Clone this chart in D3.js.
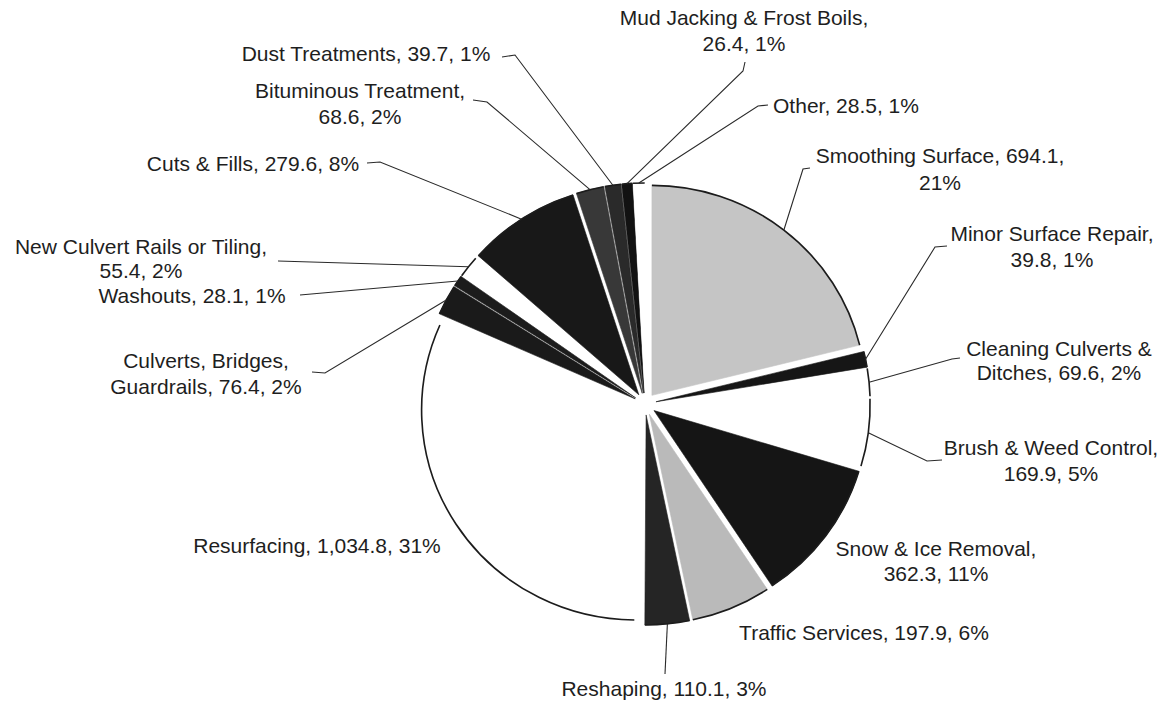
<!DOCTYPE html>
<html>
<head>
<meta charset="utf-8">
<script src="https://cdn.jsdelivr.net/npm/d3@7/dist/d3.min.js"></script>
<style>
  body { margin: 0; background: #ffffff; }
  svg { display: block; }
  text { font-family: "Liberation Sans", Arial, sans-serif; fill: #1e1e1e; }
</style>
</head>
<body>
<svg id="chart" width="1165" height="704"></svg>
<script>
// Road maintenance expenditure by activity (clockwise from 12 o'clock)
const categories = [
  "Smoothing Surface", "Minor Surface Repair", "Cleaning Culverts & Ditches",
  "Brush & Weed Control", "Snow & Ice Removal", "Traffic Services", "Reshaping",
  "Resurfacing", "Culverts, Bridges, Guardrails", "Washouts",
  "New Culvert Rails or Tiling", "Cuts & Fills", "Bituminous Treatment",
  "Dust Treatments", "Mud Jacking & Frost Boils", "Other"
];
const values = [
  694.1, 39.8, 69.6, 169.9, 362.3, 197.9, 110.1, 1034.8,
  76.4, 28.1, 55.4, 279.6, 68.6, 39.7, 26.4, 28.5
];
const percentLabels = [
  "21%", "1%", "2%", "5%", "11%", "6%", "3%", "31%",
  "2%", "1%", "2%", "8%", "2%", "1%", "1%", "1%"
];

// Slice shading
const sliceFills = [
  "#c5c5c5", "#161616", "#ffffff", "#ffffff", "#151515", "#bababa", "#252525", "#ffffff",
  "#1a1a1a", "#1c1c1c", "#ffffff", "#181818", "#383838", "#2a2a2a", "#121212", "#ffffff"
];

// Label placement: text centre, first-line break, line gap and leader start/elbow
const labelLayout = [
  { x: 940,  y: 155, brk: "694.1,", gap: 27, leader: [[810,168],[803,169]] },
  { x: 1052, y: 233, brk: "Repair,", gap: 26, leader: [[947,246],[935,247]] },
  { x: 1059, y: 348, brk: "&", gap: 24, leader: [[960,358],[952,359]] },
  { x: 1051, y: 447, brk: "Control,", gap: 26, leader: [[942,460],[927,461]] },
  { x: 936,  y: 548, brk: "Removal,", gap: 25, leader: null },
  { x: 864,  y: 632, brk: null, leader: null },
  { x: 664,  y: 688, brk: null, leader: [[665,674]] },
  { x: 317,  y: 545, brk: null, leader: null },
  { x: 206,  y: 360, brk: "Bridges,", gap: 26, leader: [[312,372],[325,373]] },
  { x: 192,  y: 295, brk: null, leader: [[300,295]] },
  { x: 141,  y: 246, brk: "Tiling,", gap: 24, leader: [[278,261]] },
  { x: 253,  y: 163, brk: null, leader: [[367,163],[380,162]] },
  { x: 360,  y: 90,  brk: "Treatment,", gap: 26, leader: [[473,100],[487,102]] },
  { x: 366,  y: 53,  brk: null, leader: [[502,57],[515,55]] },
  { x: 744,  y: 17,  brk: "Boils,", gap: 26, leader: [[745,62],[743,71]] },
  { x: 846,  y: 105, brk: null, leader: [[768,105],[758,106]] }
];

const W = 1165, H = 704;
const CX = 645, CY = 404, SX = 1.019;
const R = 210, EXPLODE = 11;
const FONT = 21;

const data = categories.map((c, i) => ({ name: c, value: values[i], pct: percentLabels[i], i }));
const svg = d3.select("#chart");
svg.append("rect").attr("width", W).attr("height", H).attr("fill", "#ffffff");

const pie = d3.pie().sort(null).value(d => d.value).startAngle(0).endAngle(2 * Math.PI);
const arcs = pie(data);
const arcGen = d3.arc().innerRadius(0).outerRadius(R);
const fmt = d3.format(",.1f");

const g = svg.append("g").attr("transform", `translate(${CX},${CY}) scale(${SX},1)`);

function offsetOf(a, dist) {
  const mid = (a.startAngle + a.endAngle) / 2;
  return [dist * Math.sin(mid), -dist * Math.cos(mid)];
}

// Exploded slices
const slices = g.selectAll("g.slice").data(arcs).join("g")
  .attr("class", "slice")
  .attr("transform", a => { const o = offsetOf(a, EXPLODE); return `translate(${o[0]},${o[1]})`; });

slices.append("path")
  .attr("d", arcGen)
  .attr("fill", a => sliceFills[a.data.i])
  .attr("stroke", a => sliceFills[a.data.i] === "#ffffff" ? "none" : sliceFills[a.data.i])
  .attr("stroke-width", 0.6);

// Outer rim of each slice
slices.append("path")
  .attr("d", a => {
    const p = d3.path();
    p.arc(0, 0, R, a.startAngle - Math.PI / 2, a.endAngle - Math.PI / 2);
    return p.toString();
  })
  .attr("fill", "none")
  .attr("stroke", "#1c1c1c")
  .attr("stroke-width", 1.6);

// Leader lines
const leaderG = svg.append("g");
arcs.forEach(a => {
  const lay = labelLayout[a.data.i];
  if (!lay.leader) return;
  const o = offsetOf(a, R + EXPLODE);
  const end = [CX + SX * o[0], CY + o[1]];
  const pts = lay.leader.concat([end]);
  leaderG.append("path")
    .attr("d", d3.line()(pts))
    .attr("fill", "none")
    .attr("stroke", "#2a2a2a")
    .attr("stroke-width", 1.1);
});

// Data labels: "name, value, percent"
const labelG = svg.append("g").attr("font-size", FONT);
arcs.forEach(a => {
  const d = a.data;
  const lay = labelLayout[d.i];
  const full = `${d.name}, ${fmt(d.value)}, ${d.pct}`;
  let lines = [full];
  if (lay.brk) {
    const k = full.indexOf(lay.brk) + lay.brk.length;
    lines = [full.slice(0, k), full.slice(k).trim()];
  }
  const t = labelG.append("text")
    .attr("text-anchor", "middle")
    .attr("x", lay.x)
    .attr("y", lay.y);
  lines.forEach((ln, j) => {
    t.append("tspan")
      .attr("x", lay.x)
      .attr("y", lay.y + j * (lay.gap || 0))
      .attr("dy", "0.36em")
      .text(ln);
  });
});
</script>
</body>
</html>
